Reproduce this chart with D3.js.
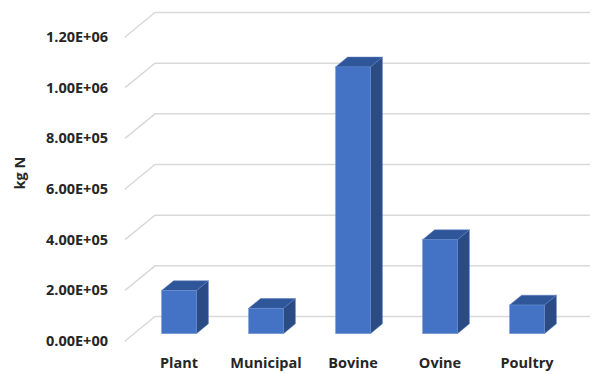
<!DOCTYPE html>
<html><head><meta charset="utf-8">
<script src="https://cdn.jsdelivr.net/npm/d3@7/dist/d3.min.js"></script>
<style>body{margin:0;background:#fff}svg{display:block}text{font-family:"Open Sans",sans-serif;font-weight:700;fill:#262626}</style>
</head><body>
<svg id="c" width="594" height="374"></svg>
<script>
const categories = ["Plant","Municipal","Bovine","Ovine","Poultry"];
const values = [1.70e5, 1.00e5, 1.053e6, 3.71e5, 1.13e5];
const tickValues = [0, 2e5, 4e5, 6e5, 8e5, 1e6, 1.2e6];
const tickLabels = ["0.00E+00","2.00E+05","4.00E+05","6.00E+05","8.00E+05","1.00E+06","1.20E+06"];
const yTitle = "kg N";

const svg = d3.select("#c");
const DX = 30, DY = -24.5;
const FS = 14.5;
const x = d3.scaleBand().domain(categories).range([126.5, 561.5]).paddingInner(0.6).paddingOuter(0.3);
const y = d3.scaleLinear().domain([0, 1.2e6]).range([341, 37]);

// gridlines (side diagonal + back wall)
const g = svg.append("g");
tickValues.forEach(t => {
  const yf = y(t);
  g.append("path")
    .attr("d", `M${125},${yf}L${125+DX},${yf+DY}L${560+DX},${yf+DY}`)
    .attr("fill","none").attr("stroke","#d9d9d9").attr("stroke-width",1.5);
});

// y axis labels
const ax = svg.append("g").attr("transform","translate(112,0)")
  .call(d3.axisLeft(y).tickValues(tickValues).tickSize(0).tickPadding(4)
    .tickFormat((d,i)=>tickLabels[i]));
ax.select(".domain").remove();
ax.selectAll("text").attr("font-size",FS).attr("font-family","Open Sans, sans-serif").attr("font-weight",700).attr("fill","#262626");

// bars
const fo = 0.3, bo = 0.7;
const ox = fo*DX, oy = fo*DY, bx = bo*DX, by = bo*DY;
const bars = svg.append("g");
categories.forEach((c,i) => {
  const x0 = x(c), x1 = x0 + x.bandwidth();
  const yv = y(values[i]), y0 = y(0);
  bars.append("polygon").attr("points", [[x1+ox,yv+oy],[x1+bx,yv+by],[x1+bx,y0+by],[x1+ox,y0+oy]].join(" "))
    .attr("fill","#2b4b85").attr("stroke","#5a7cbf").attr("stroke-width",0.5);
  bars.append("polygon").attr("points", [[x0+ox,yv+oy],[x1+ox,yv+oy],[x1+bx,yv+by],[x0+bx,yv+by]].join(" "))
    .attr("fill","#30569a").attr("stroke","#5a7cbf").attr("stroke-width",0.5);
  bars.append("rect").attr("x",x0+ox).attr("y",yv+oy).attr("width",x1-x0).attr("height",y0-yv)
    .attr("fill","#4472c4").attr("stroke","#6a8fd0").attr("stroke-width",0.5);
});

// category labels
svg.append("g").selectAll("text").data(categories).join("text")
  .attr("x", d => x(d) + x.bandwidth()/2 + ox)
  .attr("y", 368).attr("text-anchor","middle").attr("font-size",FS).text(d=>d);

// y title
svg.append("text").attr("transform","translate(25,173) rotate(-90)")
  .attr("text-anchor","middle").attr("font-size",FS).text(yTitle);
</script>
</body></html>
